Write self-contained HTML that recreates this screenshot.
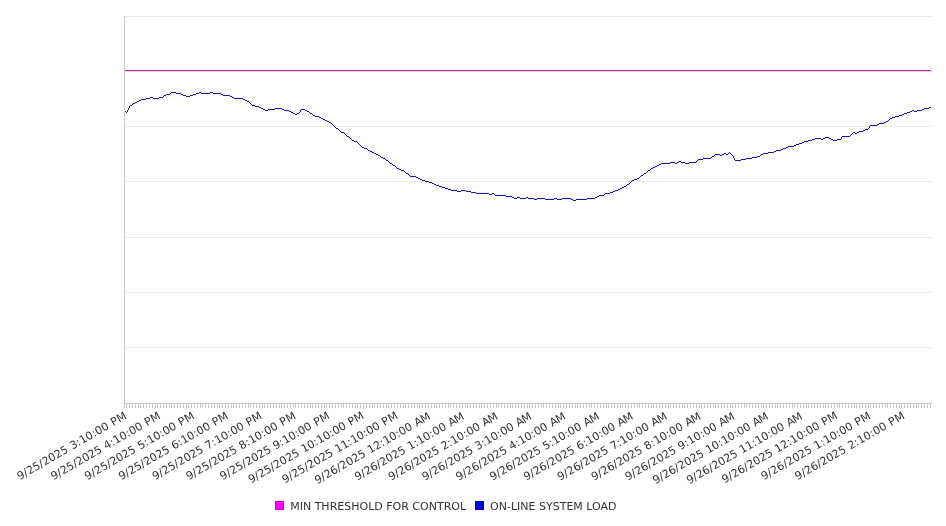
<!DOCTYPE html>
<html><head><meta charset="utf-8"><title>Chart</title>
<style>
html,body{margin:0;padding:0;background:#fff;}
svg{display:block;}
text{font-family:"DejaVu Sans","Liberation Sans",sans-serif;font-size:11px;fill:#333333;}
</style></head><body>
<svg width="946" height="526" viewBox="0 0 946 526">
<rect x="0" y="0" width="946" height="526" fill="#ffffff"/>
<g shape-rendering="crispEdges">
<rect x="125" y="16" width="807" height="1" fill="#ececec"/>
<rect x="125" y="126" width="807" height="1" fill="#ececec"/>
<rect x="125" y="181" width="807" height="1" fill="#ececec"/>
<rect x="125" y="237" width="807" height="1" fill="#ececec"/>
<rect x="125" y="292" width="807" height="1" fill="#ececec"/>
<rect x="125" y="347" width="807" height="1" fill="#ececec"/>
<rect x="124" y="16" width="1" height="388" fill="#cbcbcb"/>
<rect x="124" y="403" width="808" height="1" fill="#c6c6c6"/>
<path fill="#c6c6c6" d="M124 404v4h1v-4zM126 404v4h1v-4zM129 404v4h1v-4zM132 404v4h1v-4zM135 404v4h1v-4zM138 404v4h1v-4zM140 404v4h1v-4zM143 404v4h1v-4zM146 404v4h1v-4zM149 404v4h1v-4zM152 404v4h1v-4zM155 404v4h1v-4zM157 404v4h1v-4zM160 404v4h1v-4zM163 404v4h1v-4zM166 404v4h1v-4zM169 404v4h1v-4zM171 404v4h1v-4zM174 404v4h1v-4zM177 404v4h1v-4zM180 404v4h1v-4zM183 404v4h1v-4zM186 404v4h1v-4zM188 404v4h1v-4zM191 404v4h1v-4zM194 404v4h1v-4zM197 404v4h1v-4zM200 404v4h1v-4zM202 404v4h1v-4zM205 404v4h1v-4zM208 404v4h1v-4zM211 404v4h1v-4zM214 404v4h1v-4zM217 404v4h1v-4zM219 404v4h1v-4zM222 404v4h1v-4zM225 404v4h1v-4zM228 404v4h1v-4zM231 404v4h1v-4zM233 404v4h1v-4zM236 404v4h1v-4zM239 404v4h1v-4zM242 404v4h1v-4zM245 404v4h1v-4zM248 404v4h1v-4zM250 404v4h1v-4zM253 404v4h1v-4zM256 404v4h1v-4zM259 404v4h1v-4zM262 404v4h1v-4zM264 404v4h1v-4zM267 404v4h1v-4zM270 404v4h1v-4zM273 404v4h1v-4zM276 404v4h1v-4zM279 404v4h1v-4zM281 404v4h1v-4zM284 404v4h1v-4zM287 404v4h1v-4zM290 404v4h1v-4zM293 404v4h1v-4zM295 404v4h1v-4zM298 404v4h1v-4zM301 404v4h1v-4zM304 404v4h1v-4zM307 404v4h1v-4zM310 404v4h1v-4zM312 404v4h1v-4zM315 404v4h1v-4zM318 404v4h1v-4zM321 404v4h1v-4zM324 404v4h1v-4zM326 404v4h1v-4zM329 404v4h1v-4zM332 404v4h1v-4zM335 404v4h1v-4zM338 404v4h1v-4zM341 404v4h1v-4zM343 404v4h1v-4zM346 404v4h1v-4zM349 404v4h1v-4zM352 404v4h1v-4zM355 404v4h1v-4zM357 404v4h1v-4zM360 404v4h1v-4zM363 404v4h1v-4zM366 404v4h1v-4zM369 404v4h1v-4zM372 404v4h1v-4zM374 404v4h1v-4zM377 404v4h1v-4zM380 404v4h1v-4zM383 404v4h1v-4zM386 404v4h1v-4zM388 404v4h1v-4zM391 404v4h1v-4zM394 404v4h1v-4zM397 404v4h1v-4zM400 404v4h1v-4zM403 404v4h1v-4zM405 404v4h1v-4zM408 404v4h1v-4zM411 404v4h1v-4zM414 404v4h1v-4zM417 404v4h1v-4zM419 404v4h1v-4zM422 404v4h1v-4zM425 404v4h1v-4zM428 404v4h1v-4zM431 404v4h1v-4zM434 404v4h1v-4zM436 404v4h1v-4zM439 404v4h1v-4zM442 404v4h1v-4zM445 404v4h1v-4zM448 404v4h1v-4zM450 404v4h1v-4zM453 404v4h1v-4zM456 404v4h1v-4zM459 404v4h1v-4zM462 404v4h1v-4zM465 404v4h1v-4zM467 404v4h1v-4zM470 404v4h1v-4zM473 404v4h1v-4zM476 404v4h1v-4zM479 404v4h1v-4zM481 404v4h1v-4zM484 404v4h1v-4zM487 404v4h1v-4zM490 404v4h1v-4zM493 404v4h1v-4zM496 404v4h1v-4zM498 404v4h1v-4zM501 404v4h1v-4zM504 404v4h1v-4zM507 404v4h1v-4zM510 404v4h1v-4zM512 404v4h1v-4zM515 404v4h1v-4zM518 404v4h1v-4zM521 404v4h1v-4zM524 404v4h1v-4zM527 404v4h1v-4zM529 404v4h1v-4zM532 404v4h1v-4zM535 404v4h1v-4zM538 404v4h1v-4zM541 404v4h1v-4zM543 404v4h1v-4zM546 404v4h1v-4zM549 404v4h1v-4zM552 404v4h1v-4zM555 404v4h1v-4zM558 404v4h1v-4zM560 404v4h1v-4zM563 404v4h1v-4zM566 404v4h1v-4zM569 404v4h1v-4zM572 404v4h1v-4zM575 404v4h1v-4zM577 404v4h1v-4zM580 404v4h1v-4zM583 404v4h1v-4zM586 404v4h1v-4zM589 404v4h1v-4zM591 404v4h1v-4zM594 404v4h1v-4zM597 404v4h1v-4zM600 404v4h1v-4zM603 404v4h1v-4zM606 404v4h1v-4zM608 404v4h1v-4zM611 404v4h1v-4zM614 404v4h1v-4zM617 404v4h1v-4zM620 404v4h1v-4zM622 404v4h1v-4zM625 404v4h1v-4zM628 404v4h1v-4zM631 404v4h1v-4zM634 404v4h1v-4zM637 404v4h1v-4zM639 404v4h1v-4zM642 404v4h1v-4zM645 404v4h1v-4zM648 404v4h1v-4zM651 404v4h1v-4zM653 404v4h1v-4zM656 404v4h1v-4zM659 404v4h1v-4zM662 404v4h1v-4zM665 404v4h1v-4zM668 404v4h1v-4zM670 404v4h1v-4zM673 404v4h1v-4zM676 404v4h1v-4zM679 404v4h1v-4zM682 404v4h1v-4zM684 404v4h1v-4zM687 404v4h1v-4zM690 404v4h1v-4zM693 404v4h1v-4zM696 404v4h1v-4zM699 404v4h1v-4zM701 404v4h1v-4zM704 404v4h1v-4zM707 404v4h1v-4zM710 404v4h1v-4zM713 404v4h1v-4zM715 404v4h1v-4zM718 404v4h1v-4zM721 404v4h1v-4zM724 404v4h1v-4zM727 404v4h1v-4zM730 404v4h1v-4zM732 404v4h1v-4zM735 404v4h1v-4zM738 404v4h1v-4zM741 404v4h1v-4zM744 404v4h1v-4zM746 404v4h1v-4zM749 404v4h1v-4zM752 404v4h1v-4zM755 404v4h1v-4zM758 404v4h1v-4zM761 404v4h1v-4zM763 404v4h1v-4zM766 404v4h1v-4zM769 404v4h1v-4zM772 404v4h1v-4zM775 404v4h1v-4zM777 404v4h1v-4zM780 404v4h1v-4zM783 404v4h1v-4zM786 404v4h1v-4zM789 404v4h1v-4zM792 404v4h1v-4zM794 404v4h1v-4zM797 404v4h1v-4zM800 404v4h1v-4zM803 404v4h1v-4zM806 404v4h1v-4zM808 404v4h1v-4zM811 404v4h1v-4zM814 404v4h1v-4zM817 404v4h1v-4zM820 404v4h1v-4zM823 404v4h1v-4zM825 404v4h1v-4zM828 404v4h1v-4zM831 404v4h1v-4zM834 404v4h1v-4zM837 404v4h1v-4zM839 404v4h1v-4zM842 404v4h1v-4zM845 404v4h1v-4zM848 404v4h1v-4zM851 404v4h1v-4zM854 404v4h1v-4zM856 404v4h1v-4zM859 404v4h1v-4zM862 404v4h1v-4zM865 404v4h1v-4zM868 404v4h1v-4zM870 404v4h1v-4zM873 404v4h1v-4zM876 404v4h1v-4zM879 404v4h1v-4zM882 404v4h1v-4zM885 404v4h1v-4zM887 404v4h1v-4zM890 404v4h1v-4zM893 404v4h1v-4zM896 404v4h1v-4zM899 404v4h1v-4zM901 404v4h1v-4zM904 404v4h1v-4zM907 404v4h1v-4zM910 404v4h1v-4zM913 404v4h1v-4zM916 404v4h1v-4zM918 404v4h1v-4zM921 404v4h1v-4zM924 404v4h1v-4zM927 404v4h1v-4zM930 404v4h1v-4z"/>
<rect x="125" y="70" width="806" height="1" fill="#a541a5"/>
<rect x="125" y="71" width="806" height="1" fill="#fcc8fc"/>
<path fill="#f8f8ff" d="M180 92h2v1h-2zM220 92h2v1h-2zM181 93h1v1h-1zM221 93h1v1h-1zM180 94h1v1h-1zM220 94h1v1h-1zM180 95h2v1h-2zM220 95h2v1h-2zM152 96h2v1h-2zM158 96h2v1h-2zM153 97h1v1h-1zM158 97h1v1h-1zM140 98h2v1h-2zM152 98h1v1h-1zM159 98h1v1h-1zM244 98h2v1h-2zM140 99h1v1h-1zM152 99h2v1h-2zM158 99h2v1h-2zM245 99h1v1h-1zM136 100h2v1h-2zM141 100h1v1h-1zM244 100h1v1h-1zM248 100h2v1h-2zM136 101h1v1h-1zM140 101h2v1h-2zM244 101h2v1h-2zM249 101h1v1h-1zM132 102h2v1h-2zM137 102h1v1h-1zM248 102h1v1h-1zM250 102h2v1h-2zM132 103h1v1h-1zM136 103h2v1h-2zM248 103h2v1h-2zM251 103h1v1h-1zM133 104h1v1h-1zM250 104h1v1h-1zM254 104h2v1h-2zM132 105h2v1h-2zM250 105h2v1h-2zM255 105h1v1h-1zM254 106h1v1h-1zM260 106h2v1h-2zM928 106h4v1h-4zM254 107h2v1h-2zM261 107h1v1h-1zM928 107h1v1h-1zM931 107h1v1h-1zM260 108h1v1h-1zM264 108h2v1h-2zM300 108h2v1h-2zM304 108h2v1h-2zM929 108h1v1h-1zM260 109h2v1h-2zM265 109h1v1h-1zM300 109h1v1h-1zM305 109h1v1h-1zM928 109h2v1h-2zM124 110h2v1h-2zM264 110h1v1h-1zM290 110h2v1h-2zM304 110h1v1h-1zM308 110h2v1h-2zM124 111h1v1h-1zM264 111h2v1h-2zM291 111h1v1h-1zM304 111h2v1h-2zM309 111h1v1h-1zM127 112h1v1h-1zM290 112h1v1h-1zM294 112h4v1h-4zM308 112h1v1h-1zM126 113h2v1h-2zM290 113h2v1h-2zM295 113h2v1h-2zM308 113h2v1h-2zM294 114h1v1h-1zM297 114h1v1h-1zM314 114h2v1h-2zM898 114h2v1h-2zM294 115h4v1h-4zM315 115h1v1h-1zM898 115h1v1h-1zM314 116h1v1h-1zM320 116h2v1h-2zM899 116h1v1h-1zM314 117h2v1h-2zM321 117h1v1h-1zM898 117h2v1h-2zM320 118h1v1h-1zM324 118h2v1h-2zM888 118h2v1h-2zM320 119h2v1h-2zM325 119h1v1h-1zM888 119h1v1h-1zM324 120h1v1h-1zM328 120h2v1h-2zM889 120h1v1h-1zM324 121h2v1h-2zM329 121h1v1h-1zM888 121h2v1h-2zM328 122h1v1h-1zM878 122h2v1h-2zM328 123h2v1h-2zM878 123h1v1h-1zM879 124h1v1h-1zM878 125h2v1h-2zM338 128h2v1h-2zM864 128h2v1h-2zM869 128h1v1h-1zM339 129h1v1h-1zM864 129h1v1h-1zM868 129h2v1h-2zM338 130h1v1h-1zM340 130h2v1h-2zM858 130h2v1h-2zM865 130h1v1h-1zM338 131h2v1h-2zM341 131h1v1h-1zM858 131h1v1h-1zM864 131h2v1h-2zM340 132h1v1h-1zM344 132h2v1h-2zM859 132h1v1h-1zM340 133h2v1h-2zM345 133h1v1h-1zM858 133h2v1h-2zM344 134h1v1h-1zM346 134h2v1h-2zM344 135h2v1h-2zM347 135h1v1h-1zM346 136h1v1h-1zM824 136h2v1h-2zM828 136h2v1h-2zM840 136h2v1h-2zM346 137h2v1h-2zM824 137h1v1h-1zM829 137h1v1h-1zM840 137h1v1h-1zM825 138h1v1h-1zM828 138h1v1h-1zM832 138h2v1h-2zM836 138h2v1h-2zM824 139h2v1h-2zM828 139h2v1h-2zM833 139h1v1h-1zM836 139h1v1h-1zM356 140h2v1h-2zM832 140h1v1h-1zM837 140h1v1h-1zM357 141h1v1h-1zM832 141h2v1h-2zM836 141h2v1h-2zM356 142h1v1h-1zM358 142h2v1h-2zM798 142h2v1h-2zM356 143h2v1h-2zM359 143h1v1h-1zM798 143h1v1h-1zM358 144h1v1h-1zM360 144h2v1h-2zM799 144h1v1h-1zM358 145h2v1h-2zM361 145h1v1h-1zM798 145h2v1h-2zM360 146h1v1h-1zM360 147h2v1h-2zM780 148h2v1h-2zM780 149h1v1h-1zM781 150h1v1h-1zM780 151h2v1h-2zM730 152h2v1h-2zM762 152h2v1h-2zM731 153h1v1h-1zM762 153h1v1h-1zM730 154h1v1h-1zM732 154h2v1h-2zM763 154h1v1h-1zM730 155h2v1h-2zM733 155h1v1h-1zM762 155h2v1h-2zM382 156h2v1h-2zM710 156h2v1h-2zM383 157h1v1h-1zM710 157h1v1h-1zM382 158h1v1h-1zM711 158h1v1h-1zM740 158h2v1h-2zM382 159h2v1h-2zM710 159h2v1h-2zM740 159h1v1h-1zM388 160h2v1h-2zM678 160h4v1h-4zM734 160h1v1h-1zM741 160h1v1h-1zM389 161h1v1h-1zM678 161h1v1h-1zM681 161h1v1h-1zM734 161h2v1h-2zM740 161h2v1h-2zM388 162h1v1h-1zM660 162h2v1h-2zM679 162h2v1h-2zM388 163h2v1h-2zM660 163h1v1h-1zM678 163h4v1h-4zM394 164h2v1h-2zM656 164h2v1h-2zM661 164h1v1h-1zM395 165h1v1h-1zM656 165h1v1h-1zM660 165h2v1h-2zM394 166h1v1h-1zM396 166h2v1h-2zM652 166h2v1h-2zM657 166h1v1h-1zM394 167h2v1h-2zM397 167h1v1h-1zM652 167h1v1h-1zM656 167h2v1h-2zM396 168h1v1h-1zM400 168h2v1h-2zM653 168h1v1h-1zM396 169h2v1h-2zM401 169h1v1h-1zM652 169h2v1h-2zM400 170h1v1h-1zM404 170h2v1h-2zM646 170h2v1h-2zM400 171h2v1h-2zM405 171h1v1h-1zM646 171h1v1h-1zM404 172h1v1h-1zM647 172h1v1h-1zM404 173h2v1h-2zM646 173h2v1h-2zM640 174h2v1h-2zM640 175h1v1h-1zM638 176h2v1h-2zM641 176h1v1h-1zM638 177h1v1h-1zM640 177h2v1h-2zM639 178h1v1h-1zM638 179h2v1h-2zM428 180h2v1h-2zM630 180h2v1h-2zM429 181h1v1h-1zM630 181h1v1h-1zM428 182h1v1h-1zM628 182h2v1h-2zM631 182h1v1h-1zM428 183h2v1h-2zM628 183h1v1h-1zM630 183h2v1h-2zM438 184h2v1h-2zM629 184h1v1h-1zM439 185h1v1h-1zM628 185h2v1h-2zM438 186h1v1h-1zM444 186h2v1h-2zM438 187h2v1h-2zM445 187h1v1h-1zM444 188h1v1h-1zM450 188h2v1h-2zM444 189h2v1h-2zM451 189h1v1h-1zM450 190h1v1h-1zM470 190h2v1h-2zM612 190h2v1h-2zM450 191h2v1h-2zM471 191h1v1h-1zM612 191h1v1h-1zM470 192h1v1h-1zM488 192h2v1h-2zM604 192h2v1h-2zM613 192h1v1h-1zM470 193h2v1h-2zM489 193h1v1h-1zM604 193h1v1h-1zM612 193h2v1h-2zM488 194h1v1h-1zM598 194h2v1h-2zM605 194h1v1h-1zM488 195h2v1h-2zM598 195h1v1h-1zM604 195h2v1h-2zM516 196h2v1h-2zM594 196h2v1h-2zM599 196h1v1h-1zM516 197h1v1h-1zM594 197h1v1h-1zM598 197h2v1h-2zM517 198h1v1h-1zM572 198h2v1h-2zM595 198h1v1h-1zM516 199h2v1h-2zM573 199h1v1h-1zM594 199h2v1h-2zM572 200h1v1h-1zM572 201h2v1h-2z"/>
<path fill="#f0f1ff" d="M170 92h1v1h-1zM176 92h4v1h-4zM196 92h3v1h-3zM201 92h9v1h-9zM213 92h7v1h-7zM171 93h5v1h-5zM199 93h2v1h-2zM210 93h3v1h-3zM164 94h2v1h-2zM183 94h3v1h-3zM190 94h3v1h-3zM223 94h7v1h-7zM166 95h4v1h-4zM182 95h1v1h-1zM193 95h3v1h-3zM222 95h1v1h-1zM150 96h2v1h-2zM160 96h3v1h-3zM232 96h2v1h-2zM163 97h1v1h-1zM186 97h4v1h-4zM230 97h2v1h-2zM142 98h4v1h-4zM243 98h1v1h-1zM146 99h4v1h-4zM154 99h4v1h-4zM234 99h9v1h-9zM138 100h1v1h-1zM247 100h1v1h-1zM139 101h1v1h-1zM246 101h1v1h-1zM134 102h1v1h-1zM135 103h1v1h-1zM130 104h2v1h-2zM252 104h2v1h-2zM128 106h1v1h-1zM259 106h1v1h-1zM128 107h1v1h-1zM256 107h3v1h-3zM129 108h1v1h-1zM263 108h1v1h-1zM268 108h7v1h-7zM282 108h2v1h-2zM302 108h2v1h-2zM922 108h2v1h-2zM129 109h1v1h-1zM262 109h1v1h-1zM275 109h7v1h-7zM924 109h4v1h-4zM126 110h1v1h-1zM289 110h1v1h-1zM301 110h1v1h-1zM307 110h1v1h-1zM910 110h2v1h-2zM914 110h3v1h-3zM126 111h1v1h-1zM266 111h2v1h-2zM284 111h5v1h-5zM301 111h1v1h-1zM306 111h1v1h-1zM912 111h2v1h-2zM917 111h5v1h-5zM293 112h1v1h-1zM298 112h1v1h-1zM310 112h2v1h-2zM904 112h3v1h-3zM292 113h1v1h-1zM299 113h1v1h-1zM907 113h3v1h-3zM313 114h1v1h-1zM900 114h2v1h-2zM312 115h1v1h-1zM902 115h2v1h-2zM319 116h1v1h-1zM892 116h3v1h-3zM316 117h3v1h-3zM895 117h3v1h-3zM323 118h1v1h-1zM322 119h1v1h-1zM890 119h2v1h-2zM327 120h1v1h-1zM886 120h2v1h-2zM326 121h1v1h-1zM331 122h1v1h-1zM880 122h4v1h-4zM330 123h1v1h-1zM884 123h2v1h-2zM333 124h1v1h-1zM870 124h7v1h-7zM332 125h1v1h-1zM877 125h1v1h-1zM335 126h1v1h-1zM868 126h1v1h-1zM334 127h1v1h-1zM868 127h1v1h-1zM866 128h2v1h-2zM336 129h2v1h-2zM860 130h3v1h-3zM863 131h1v1h-1zM852 132h1v1h-1zM855 132h2v1h-2zM342 133h2v1h-2zM853 133h2v1h-2zM857 133h1v1h-1zM850 134h1v1h-1zM851 135h1v1h-1zM349 136h1v1h-1zM826 136h2v1h-2zM348 137h1v1h-1zM842 137h8v1h-8zM351 138h1v1h-1zM812 138h3v1h-3zM821 138h2v1h-2zM831 138h1v1h-1zM838 138h3v1h-3zM350 139h1v1h-1zM815 139h6v1h-6zM823 139h1v1h-1zM830 139h1v1h-1zM841 139h1v1h-1zM354 140h2v1h-2zM804 140h4v1h-4zM352 141h2v1h-2zM808 141h4v1h-4zM834 141h2v1h-2zM800 142h2v1h-2zM802 143h2v1h-2zM794 144h2v1h-2zM796 145h2v1h-2zM362 146h2v1h-2zM786 146h2v1h-2zM788 147h6v1h-6zM367 148h1v1h-1zM782 148h1v1h-1zM364 149h3v1h-3zM783 149h3v1h-3zM370 150h2v1h-2zM774 150h2v1h-2zM368 151h2v1h-2zM776 151h4v1h-4zM374 152h2v1h-2zM724 152h2v1h-2zM728 152h1v1h-1zM764 152h4v1h-4zM372 153h2v1h-2zM729 153h1v1h-1zM768 153h6v1h-6zM378 154h2v1h-2zM714 154h1v1h-1zM720 154h2v1h-2zM760 154h1v1h-1zM376 155h2v1h-2zM715 155h5v1h-5zM722 155h2v1h-2zM726 155h2v1h-2zM761 155h1v1h-1zM381 156h1v1h-1zM732 156h1v1h-1zM752 156h5v1h-5zM380 157h1v1h-1zM712 157h2v1h-2zM732 157h1v1h-1zM757 157h3v1h-3zM385 158h1v1h-1zM698 158h5v1h-5zM735 158h1v1h-1zM742 158h4v1h-4zM384 159h1v1h-1zM703 159h7v1h-7zM735 159h1v1h-1zM746 159h6v1h-6zM696 160h1v1h-1zM386 161h2v1h-2zM697 161h1v1h-1zM736 161h4v1h-4zM390 162h2v1h-2zM662 162h8v1h-8zM675 162h2v1h-2zM685 162h4v1h-4zM670 163h5v1h-5zM677 163h1v1h-1zM682 163h3v1h-3zM689 163h7v1h-7zM393 164h1v1h-1zM658 164h1v1h-1zM392 165h1v1h-1zM659 165h1v1h-1zM654 166h1v1h-1zM655 167h1v1h-1zM399 168h1v1h-1zM650 168h1v1h-1zM398 169h1v1h-1zM651 169h1v1h-1zM402 171h2v1h-2zM648 171h2v1h-2zM406 172h2v1h-2zM644 172h2v1h-2zM409 174h1v1h-1zM642 174h1v1h-1zM408 175h1v1h-1zM643 175h1v1h-1zM416 176h2v1h-2zM410 177h6v1h-6zM420 178h2v1h-2zM634 178h3v1h-3zM418 179h2v1h-2zM637 179h1v1h-1zM425 180h3v1h-3zM422 181h3v1h-3zM632 181h2v1h-2zM432 182h2v1h-2zM430 183h2v1h-2zM436 184h2v1h-2zM626 184h1v1h-1zM434 185h2v1h-2zM627 185h1v1h-1zM442 186h2v1h-2zM622 186h2v1h-2zM440 187h2v1h-2zM624 187h2v1h-2zM448 188h2v1h-2zM618 188h2v1h-2zM446 189h2v1h-2zM620 189h2v1h-2zM457 190h4v1h-4zM466 190h4v1h-4zM614 190h1v1h-1zM452 191h5v1h-5zM461 191h5v1h-5zM615 191h3v1h-3zM476 192h12v1h-12zM492 192h2v1h-2zM606 192h4v1h-4zM472 193h4v1h-4zM610 193h2v1h-2zM495 194h11v1h-11zM600 194h4v1h-4zM490 195h2v1h-2zM494 195h1v1h-1zM512 196h2v1h-2zM518 196h2v1h-2zM526 196h2v1h-2zM596 196h1v1h-1zM506 197h6v1h-6zM597 197h1v1h-1zM534 198h3v1h-3zM545 198h9v1h-9zM557 198h5v1h-5zM571 198h1v1h-1zM576 198h11v1h-11zM514 199h2v1h-2zM520 199h6v1h-6zM528 199h6v1h-6zM537 199h8v1h-8zM554 199h3v1h-3zM562 199h9v1h-9zM587 199h7v1h-7zM574 201h2v1h-2z"/>
<path fill="#241c75" d="M180 93h1v1h-1zM220 93h1v1h-1zM181 94h1v1h-1zM221 94h1v1h-1zM152 97h1v1h-1zM159 97h1v1h-1zM153 98h1v1h-1zM158 98h1v1h-1zM141 99h1v1h-1zM244 99h1v1h-1zM140 100h1v1h-1zM245 100h1v1h-1zM137 101h1v1h-1zM248 101h1v1h-1zM136 102h1v1h-1zM249 102h1v1h-1zM133 103h1v1h-1zM250 103h1v1h-1zM132 104h1v1h-1zM251 104h1v1h-1zM254 105h1v1h-1zM255 106h1v1h-1zM260 107h1v1h-1zM929 107h2v1h-2zM261 108h1v1h-1zM928 108h1v1h-1zM264 109h1v1h-1zM301 109h1v1h-1zM304 109h1v1h-1zM265 110h1v1h-1zM305 110h1v1h-1zM125 111h1v1h-1zM290 111h1v1h-1zM308 111h1v1h-1zM126 112h1v1h-1zM291 112h1v1h-1zM309 112h1v1h-1zM294 113h1v1h-1zM297 113h1v1h-1zM295 114h2v1h-2zM314 115h1v1h-1zM899 115h1v1h-1zM315 116h1v1h-1zM898 116h1v1h-1zM320 117h1v1h-1zM321 118h1v1h-1zM324 119h1v1h-1zM889 119h1v1h-1zM325 120h1v1h-1zM888 120h1v1h-1zM328 121h1v1h-1zM329 122h1v1h-1zM879 123h1v1h-1zM878 124h1v1h-1zM868 128h1v1h-1zM338 129h1v1h-1zM865 129h1v1h-1zM339 130h1v1h-1zM864 130h1v1h-1zM340 131h1v1h-1zM859 131h1v1h-1zM341 132h1v1h-1zM858 132h1v1h-1zM344 133h1v1h-1zM345 134h1v1h-1zM346 135h1v1h-1zM347 136h1v1h-1zM825 137h1v1h-1zM828 137h1v1h-1zM841 137h1v1h-1zM824 138h1v1h-1zM829 138h1v1h-1zM832 139h1v1h-1zM837 139h1v1h-1zM833 140h1v1h-1zM836 140h1v1h-1zM356 141h1v1h-1zM357 142h1v1h-1zM358 143h1v1h-1zM799 143h1v1h-1zM359 144h1v1h-1zM798 144h1v1h-1zM360 145h1v1h-1zM361 146h1v1h-1zM781 149h1v1h-1zM780 150h1v1h-1zM730 153h1v1h-1zM763 153h1v1h-1zM731 154h1v1h-1zM762 154h1v1h-1zM732 155h1v1h-1zM382 157h1v1h-1zM711 157h1v1h-1zM383 158h1v1h-1zM710 158h1v1h-1zM741 159h1v1h-1zM735 160h1v1h-1zM740 160h1v1h-1zM388 161h1v1h-1zM679 161h2v1h-2zM389 162h1v1h-1zM678 162h1v1h-1zM681 162h1v1h-1zM661 163h1v1h-1zM660 164h1v1h-1zM394 165h1v1h-1zM657 165h1v1h-1zM395 166h1v1h-1zM656 166h1v1h-1zM396 167h1v1h-1zM653 167h1v1h-1zM397 168h1v1h-1zM652 168h1v1h-1zM400 169h1v1h-1zM401 170h1v1h-1zM404 171h1v1h-1zM647 171h1v1h-1zM405 172h1v1h-1zM646 172h1v1h-1zM641 175h1v1h-1zM640 176h1v1h-1zM639 177h1v1h-1zM638 178h1v1h-1zM428 181h1v1h-1zM631 181h1v1h-1zM429 182h1v1h-1zM630 182h1v1h-1zM629 183h1v1h-1zM628 184h1v1h-1zM438 185h1v1h-1zM439 186h1v1h-1zM444 187h1v1h-1zM445 188h1v1h-1zM450 189h1v1h-1zM451 190h1v1h-1zM470 191h1v1h-1zM613 191h1v1h-1zM471 192h1v1h-1zM612 192h1v1h-1zM488 193h1v1h-1zM605 193h1v1h-1zM489 194h1v1h-1zM604 194h1v1h-1zM599 195h1v1h-1zM598 196h1v1h-1zM517 197h1v1h-1zM595 197h1v1h-1zM516 198h1v1h-1zM594 198h1v1h-1zM572 199h1v1h-1zM573 200h1v1h-1z"/>
<path fill="#1c15ae" d="M171 92h5v1h-5zM199 92h2v1h-2zM210 92h3v1h-3zM170 93h1v1h-1zM176 93h4v1h-4zM196 93h3v1h-3zM201 93h9v1h-9zM213 93h7v1h-7zM166 94h4v1h-4zM182 94h1v1h-1zM193 94h3v1h-3zM222 94h1v1h-1zM164 95h2v1h-2zM183 95h3v1h-3zM190 95h3v1h-3zM223 95h7v1h-7zM163 96h1v1h-1zM186 96h4v1h-4zM230 96h2v1h-2zM150 97h2v1h-2zM160 97h3v1h-3zM232 97h2v1h-2zM146 98h4v1h-4zM154 98h4v1h-4zM234 98h9v1h-9zM142 99h4v1h-4zM243 99h1v1h-1zM139 100h1v1h-1zM246 100h1v1h-1zM138 101h1v1h-1zM247 101h1v1h-1zM135 102h1v1h-1zM134 103h1v1h-1zM130 105h2v1h-2zM252 105h2v1h-2zM129 106h1v1h-1zM256 106h3v1h-3zM129 107h1v1h-1zM259 107h1v1h-1zM128 108h1v1h-1zM262 108h1v1h-1zM275 108h7v1h-7zM924 108h4v1h-4zM128 109h1v1h-1zM263 109h1v1h-1zM268 109h7v1h-7zM282 109h2v1h-2zM302 109h2v1h-2zM922 109h2v1h-2zM127 110h1v1h-1zM266 110h2v1h-2zM284 110h5v1h-5zM300 110h1v1h-1zM306 110h1v1h-1zM912 110h2v1h-2zM917 110h5v1h-5zM127 111h1v1h-1zM289 111h1v1h-1zM300 111h1v1h-1zM307 111h1v1h-1zM910 111h2v1h-2zM914 111h3v1h-3zM292 112h1v1h-1zM299 112h1v1h-1zM907 112h3v1h-3zM293 113h1v1h-1zM298 113h1v1h-1zM310 113h2v1h-2zM904 113h3v1h-3zM312 114h1v1h-1zM902 114h2v1h-2zM313 115h1v1h-1zM900 115h2v1h-2zM316 116h3v1h-3zM895 116h3v1h-3zM319 117h1v1h-1zM892 117h3v1h-3zM322 118h1v1h-1zM890 118h2v1h-2zM323 119h1v1h-1zM326 120h1v1h-1zM327 121h1v1h-1zM886 121h2v1h-2zM330 122h1v1h-1zM884 122h2v1h-2zM331 123h1v1h-1zM880 123h4v1h-4zM332 124h1v1h-1zM877 124h1v1h-1zM333 125h1v1h-1zM870 125h7v1h-7zM334 126h1v1h-1zM869 126h1v1h-1zM335 127h1v1h-1zM869 127h1v1h-1zM336 128h2v1h-2zM866 129h2v1h-2zM863 130h1v1h-1zM860 131h3v1h-3zM342 132h2v1h-2zM853 132h2v1h-2zM857 132h1v1h-1zM852 133h1v1h-1zM855 133h2v1h-2zM851 134h1v1h-1zM850 135h1v1h-1zM348 136h1v1h-1zM842 136h8v1h-8zM349 137h1v1h-1zM826 137h2v1h-2zM350 138h1v1h-1zM815 138h6v1h-6zM823 138h1v1h-1zM830 138h1v1h-1zM841 138h1v1h-1zM351 139h1v1h-1zM812 139h3v1h-3zM821 139h2v1h-2zM831 139h1v1h-1zM838 139h3v1h-3zM352 140h2v1h-2zM808 140h4v1h-4zM834 140h2v1h-2zM354 141h2v1h-2zM804 141h4v1h-4zM802 142h2v1h-2zM800 143h2v1h-2zM796 144h2v1h-2zM794 145h2v1h-2zM788 146h6v1h-6zM362 147h2v1h-2zM786 147h2v1h-2zM364 148h3v1h-3zM783 148h3v1h-3zM367 149h1v1h-1zM782 149h1v1h-1zM368 150h2v1h-2zM776 150h4v1h-4zM370 151h2v1h-2zM774 151h2v1h-2zM372 152h2v1h-2zM729 152h1v1h-1zM768 152h6v1h-6zM374 153h2v1h-2zM724 153h2v1h-2zM728 153h1v1h-1zM764 153h4v1h-4zM376 154h2v1h-2zM715 154h5v1h-5zM722 154h2v1h-2zM726 154h2v1h-2zM761 154h1v1h-1zM378 155h2v1h-2zM714 155h1v1h-1zM720 155h2v1h-2zM760 155h1v1h-1zM380 156h1v1h-1zM712 156h2v1h-2zM733 156h1v1h-1zM757 156h3v1h-3zM381 157h1v1h-1zM733 157h1v1h-1zM752 157h5v1h-5zM384 158h1v1h-1zM703 158h7v1h-7zM734 158h1v1h-1zM746 158h6v1h-6zM385 159h1v1h-1zM698 159h5v1h-5zM734 159h1v1h-1zM742 159h4v1h-4zM386 160h2v1h-2zM697 160h1v1h-1zM736 160h4v1h-4zM696 161h1v1h-1zM670 162h5v1h-5zM677 162h1v1h-1zM682 162h3v1h-3zM689 162h7v1h-7zM390 163h2v1h-2zM662 163h8v1h-8zM675 163h2v1h-2zM685 163h4v1h-4zM392 164h1v1h-1zM659 164h1v1h-1zM393 165h1v1h-1zM658 165h1v1h-1zM655 166h1v1h-1zM654 167h1v1h-1zM398 168h1v1h-1zM651 168h1v1h-1zM399 169h1v1h-1zM650 169h1v1h-1zM402 170h2v1h-2zM648 170h2v1h-2zM406 173h2v1h-2zM644 173h2v1h-2zM408 174h1v1h-1zM643 174h1v1h-1zM409 175h1v1h-1zM642 175h1v1h-1zM410 176h6v1h-6zM416 177h2v1h-2zM418 178h2v1h-2zM637 178h1v1h-1zM420 179h2v1h-2zM634 179h3v1h-3zM422 180h3v1h-3zM632 180h2v1h-2zM425 181h3v1h-3zM430 182h2v1h-2zM432 183h2v1h-2zM434 184h2v1h-2zM627 184h1v1h-1zM436 185h2v1h-2zM626 185h1v1h-1zM440 186h2v1h-2zM624 186h2v1h-2zM442 187h2v1h-2zM622 187h2v1h-2zM446 188h2v1h-2zM620 188h2v1h-2zM448 189h2v1h-2zM618 189h2v1h-2zM452 190h5v1h-5zM461 190h5v1h-5zM615 190h3v1h-3zM457 191h4v1h-4zM466 191h4v1h-4zM614 191h1v1h-1zM472 192h4v1h-4zM610 192h2v1h-2zM476 193h12v1h-12zM492 193h2v1h-2zM606 193h4v1h-4zM490 194h2v1h-2zM494 194h1v1h-1zM495 195h11v1h-11zM600 195h4v1h-4zM506 196h6v1h-6zM597 196h1v1h-1zM512 197h2v1h-2zM518 197h2v1h-2zM526 197h2v1h-2zM596 197h1v1h-1zM514 198h2v1h-2zM520 198h6v1h-6zM528 198h6v1h-6zM537 198h8v1h-8zM554 198h3v1h-3zM562 198h9v1h-9zM587 198h7v1h-7zM534 199h3v1h-3zM545 199h9v1h-9zM557 199h5v1h-5zM571 199h1v1h-1zM576 199h11v1h-11zM574 200h2v1h-2z"/>
</g>
<g>
<text transform="translate(127.85,417.80) rotate(-30)" x="-124.92 -117.92 -113.92 -106.92 -99.92 -95.92 -88.92 -81.92 -74.92 -67.92 -63.92 -56.92 -52.92 -45.92 -38.92 -34.92 -27.92 -20.92 -16.92 -9.92">9/25/2025 3:10:00 PM</text>
<text transform="translate(161.67,417.80) rotate(-30)" x="-124.92 -117.92 -113.92 -106.92 -99.92 -95.92 -88.92 -81.92 -74.92 -67.92 -63.92 -56.92 -52.92 -45.92 -38.92 -34.92 -27.92 -20.92 -16.92 -9.92">9/25/2025 4:10:00 PM</text>
<text transform="translate(195.49,417.80) rotate(-30)" x="-124.92 -117.92 -113.92 -106.92 -99.92 -95.92 -88.92 -81.92 -74.92 -67.92 -63.92 -56.92 -52.92 -45.92 -38.92 -34.92 -27.92 -20.92 -16.92 -9.92">9/25/2025 5:10:00 PM</text>
<text transform="translate(229.32,417.80) rotate(-30)" x="-124.92 -117.92 -113.92 -106.92 -99.92 -95.92 -88.92 -81.92 -74.92 -67.92 -63.92 -56.92 -52.92 -45.92 -38.92 -34.92 -27.92 -20.92 -16.92 -9.92">9/25/2025 6:10:00 PM</text>
<text transform="translate(263.14,417.80) rotate(-30)" x="-124.92 -117.92 -113.92 -106.92 -99.92 -95.92 -88.92 -81.92 -74.92 -67.92 -63.92 -56.92 -52.92 -45.92 -38.92 -34.92 -27.92 -20.92 -16.92 -9.92">9/25/2025 7:10:00 PM</text>
<text transform="translate(296.96,417.80) rotate(-30)" x="-124.92 -117.92 -113.92 -106.92 -99.92 -95.92 -88.92 -81.92 -74.92 -67.92 -63.92 -56.92 -52.92 -45.92 -38.92 -34.92 -27.92 -20.92 -16.92 -9.92">9/25/2025 8:10:00 PM</text>
<text transform="translate(330.78,417.80) rotate(-30)" x="-124.92 -117.92 -113.92 -106.92 -99.92 -95.92 -88.92 -81.92 -74.92 -67.92 -63.92 -56.92 -52.92 -45.92 -38.92 -34.92 -27.92 -20.92 -16.92 -9.92">9/25/2025 9:10:00 PM</text>
<text transform="translate(364.60,417.80) rotate(-30)" x="-131.27 -124.27 -120.27 -113.27 -106.27 -102.27 -95.27 -88.27 -81.27 -74.27 -70.27 -63.27 -56.27 -52.27 -45.27 -38.27 -34.27 -27.27 -20.27 -16.27 -9.27">9/25/2025 10:10:00 PM</text>
<text transform="translate(398.43,417.80) rotate(-30)" x="-131.27 -124.27 -120.27 -113.27 -106.27 -102.27 -95.27 -88.27 -81.27 -74.27 -70.27 -63.27 -56.27 -52.27 -45.27 -38.27 -34.27 -27.27 -20.27 -16.27 -9.27">9/25/2025 11:10:00 PM</text>
<text transform="translate(432.25,417.80) rotate(-30)" x="-132.81 -125.81 -121.81 -114.81 -107.81 -103.81 -96.81 -89.81 -82.81 -75.81 -71.81 -64.81 -57.81 -53.81 -46.81 -39.81 -35.81 -28.81 -21.81 -17.81 -10.81">9/26/2025 12:10:00 AM</text>
<text transform="translate(466.07,417.80) rotate(-30)" x="-125.81 -118.81 -114.81 -107.81 -100.81 -96.81 -89.81 -82.81 -75.81 -68.81 -64.81 -57.81 -53.81 -46.81 -39.81 -35.81 -28.81 -21.81 -17.81 -10.81">9/26/2025 1:10:00 AM</text>
<text transform="translate(499.89,417.80) rotate(-30)" x="-125.81 -118.81 -114.81 -107.81 -100.81 -96.81 -89.81 -82.81 -75.81 -68.81 -64.81 -57.81 -53.81 -46.81 -39.81 -35.81 -28.81 -21.81 -17.81 -10.81">9/26/2025 2:10:00 AM</text>
<text transform="translate(533.71,417.80) rotate(-30)" x="-125.81 -118.81 -114.81 -107.81 -100.81 -96.81 -89.81 -82.81 -75.81 -68.81 -64.81 -57.81 -53.81 -46.81 -39.81 -35.81 -28.81 -21.81 -17.81 -10.81">9/26/2025 3:10:00 AM</text>
<text transform="translate(567.54,417.80) rotate(-30)" x="-125.81 -118.81 -114.81 -107.81 -100.81 -96.81 -89.81 -82.81 -75.81 -68.81 -64.81 -57.81 -53.81 -46.81 -39.81 -35.81 -28.81 -21.81 -17.81 -10.81">9/26/2025 4:10:00 AM</text>
<text transform="translate(601.36,417.80) rotate(-30)" x="-125.81 -118.81 -114.81 -107.81 -100.81 -96.81 -89.81 -82.81 -75.81 -68.81 -64.81 -57.81 -53.81 -46.81 -39.81 -35.81 -28.81 -21.81 -17.81 -10.81">9/26/2025 5:10:00 AM</text>
<text transform="translate(635.18,417.80) rotate(-30)" x="-125.81 -118.81 -114.81 -107.81 -100.81 -96.81 -89.81 -82.81 -75.81 -68.81 -64.81 -57.81 -53.81 -46.81 -39.81 -35.81 -28.81 -21.81 -17.81 -10.81">9/26/2025 6:10:00 AM</text>
<text transform="translate(669.00,417.80) rotate(-30)" x="-125.81 -118.81 -114.81 -107.81 -100.81 -96.81 -89.81 -82.81 -75.81 -68.81 -64.81 -57.81 -53.81 -46.81 -39.81 -35.81 -28.81 -21.81 -17.81 -10.81">9/26/2025 7:10:00 AM</text>
<text transform="translate(702.82,417.80) rotate(-30)" x="-125.81 -118.81 -114.81 -107.81 -100.81 -96.81 -89.81 -82.81 -75.81 -68.81 -64.81 -57.81 -53.81 -46.81 -39.81 -35.81 -28.81 -21.81 -17.81 -10.81">9/26/2025 8:10:00 AM</text>
<text transform="translate(736.65,417.80) rotate(-30)" x="-125.81 -118.81 -114.81 -107.81 -100.81 -96.81 -89.81 -82.81 -75.81 -68.81 -64.81 -57.81 -53.81 -46.81 -39.81 -35.81 -28.81 -21.81 -17.81 -10.81">9/26/2025 9:10:00 AM</text>
<text transform="translate(770.47,417.80) rotate(-30)" x="-132.81 -125.81 -121.81 -114.81 -107.81 -103.81 -96.81 -89.81 -82.81 -75.81 -71.81 -64.81 -57.81 -53.81 -46.81 -39.81 -35.81 -28.81 -21.81 -17.81 -10.81">9/26/2025 10:10:00 AM</text>
<text transform="translate(804.29,417.80) rotate(-30)" x="-132.81 -125.81 -121.81 -114.81 -107.81 -103.81 -96.81 -89.81 -82.81 -75.81 -71.81 -64.81 -57.81 -53.81 -46.81 -39.81 -35.81 -28.81 -21.81 -17.81 -10.81">9/26/2025 11:10:00 AM</text>
<text transform="translate(838.11,417.80) rotate(-30)" x="-131.27 -124.27 -120.27 -113.27 -106.27 -102.27 -95.27 -88.27 -81.27 -74.27 -70.27 -63.27 -56.27 -52.27 -45.27 -38.27 -34.27 -27.27 -20.27 -16.27 -9.27">9/26/2025 12:10:00 PM</text>
<text transform="translate(871.93,417.80) rotate(-30)" x="-124.92 -117.92 -113.92 -106.92 -99.92 -95.92 -88.92 -81.92 -74.92 -67.92 -63.92 -56.92 -52.92 -45.92 -38.92 -34.92 -27.92 -20.92 -16.92 -9.92">9/26/2025 1:10:00 PM</text>
<text transform="translate(905.76,417.80) rotate(-30)" x="-124.92 -117.92 -113.92 -106.92 -99.92 -95.92 -88.92 -81.92 -74.92 -67.92 -63.92 -56.92 -52.92 -45.92 -38.92 -34.92 -27.92 -20.92 -16.92 -9.92">9/26/2025 2:10:00 PM</text>
</g>
<rect x="275.5" y="501.5" width="8" height="8" fill="#ff00ff" stroke="#d400d4" stroke-width="1"/>
<text x="290.2" y="509.8">MIN THRESHOLD FOR CONTROL</text>
<rect x="475.5" y="501.5" width="8" height="8" fill="#0400ee" stroke="#0000b8" stroke-width="1"/>
<text x="490.1" y="509.8">ON-LINE SYSTEM LOAD</text>
</svg></body></html>
